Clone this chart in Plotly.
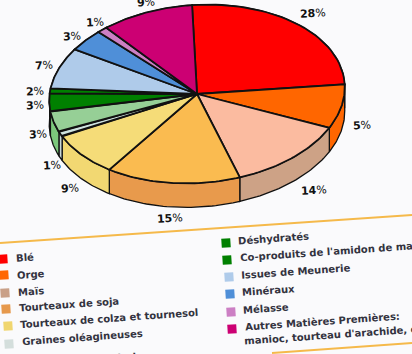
import numpy as np
import plotly.graph_objects as go

categories = ["Blé", "Orge", "Maïs", "Tourteaux de soja", "Tourteaux de colza et tournesol",
              "Graines oléagineuses", "Drèches de distillerie", "Déshydratés", "Co-produits de l'amidon de maïs",
              "Issues de Meunerie", "Minéraux", "Mélasse", "Autres Matières Premières"]
labels_pct = [28, 5, 14, 15, 9, 1, 3, 3, 2, 7, 3, 1, 9]
slice_share = [25, 7.9, 13, 14.8, 8.2, 0.9, 3.8, 3.3, 0.9, 7.3, 3.9, 1.1, 10]
top_colors = ["#FF0000", "#FF6600", "#FBBBA0", "#FABB50", "#F5DC78", "#CFE3DF", "#96CF96",
              "#008000", "#008000", "#AFCBEA", "#4F8FD8", "#CC7FC4", "#CC0073"]
side_colors = ["#DD0000", "#FF6600", "#CDA286", "#E89A4C", "#F2D872", "#C9D8D8", "#7CC87C",
               "#006600", "#006600", "#95B3D7", "#3F75B5", "#AA66A0", "#AA0060"]
label_pos = [(313, 13), (362, 125), (314, 190), (170, 218), (70, 188), (52, 165), (38, 134),
             (35, 105), (35, 91), (44, 65), (72, 36), (95, 22), (146, 2)]

legend_rows = [("Blé", 3, 259, 14, 257), ("Orge", 4, 275, 15, 274), ("Maïs", 5, 293, 16, 291),
               ("Tourteaux de soja", 6, 309, 17, 304), ("Tourteaux de colza et tournesol", 8, 326, 18, 318),
               ("Graines oléagineuses", 9, 344, 20, 337),
               ("Déshydratés", 226, 243, 236, 238), ("Co-produits de l'amidon de maïs", 227, 260, 238, 251),
               ("Issues de Meunerie", 229, 277, 239, 271), ("Minéraux", 230, 294, 240, 290),
               ("Mélasse", 231, 312, 241, 308), ("Autres Matières Premières:", 232, 329, 243, 321)]
legend_colors = ["#FF0000", "#FF6600", "#C9A088", "#E6994D", "#F0D66F", "#D4DEDC",
                 "#008000", "#008000", "#AFCBEA", "#4F8FD8", "#CC7FC4", "#CC0073"]

CX, CY, A, B, DEPTH, TILT = 197.0, 94.0, 148.0, 89.0, 24.0, np.radians(4.0)


def project(t, dy=0.0):
    x = A * np.sin(t)
    y = -B * np.cos(t)
    return CX + x * np.cos(TILT) + y * np.sin(TILT), CY - x * np.sin(TILT) + y * np.cos(TILT) + dy


fig = go.Figure()
edges = np.concatenate([[0], np.cumsum(slice_share)]) / sum(slice_share) * 2 * np.pi + np.radians(0.5)

for i, col in enumerate(side_colors):
    t = np.linspace(edges[i], edges[i + 1], 40)
    xa, ya = project(t)
    xb, yb = project(t[::-1], DEPTH)
    fig.add_trace(go.Scatter(x=np.r_[xa, xb, xa[0]], y=np.r_[ya, yb, ya[0]], mode="lines", fill="toself",
                             fillcolor=col, line=dict(color="#111111", width=1.3), hoverinfo="skip"))
for i, col in enumerate(top_colors):
    t = np.linspace(edges[i], edges[i + 1], 40)
    xa, ya = project(t)
    fig.add_trace(go.Scatter(x=np.r_[CX, xa, CX], y=np.r_[CY, ya, CY], mode="lines", fill="toself",
                             fillcolor=col, line=dict(color="#111111", width=1.8), hoverinfo="skip"))

for n, (x, y) in zip(labels_pct, label_pos):
    fig.add_annotation(x=x, y=y, text=f"<b>{n}</b>%", showarrow=False, xanchor="center", yanchor="middle",
                       font=dict(family="DejaVu Sans", size=11, color="#111111"), textangle=-3)

fig.add_trace(go.Scatter(x=[r[1] for r in legend_rows], y=[r[2] for r in legend_rows], mode="markers",
                         marker=dict(symbol="square", size=9, color=legend_colors, angle=-4, line=dict(width=0)),
                         hoverinfo="skip"))
LEG_FONT = dict(family="DejaVu Sans", size=10, color="#33333F")
for name, _, _, tx, ty in legend_rows:
    fig.add_annotation(x=tx, y=ty, text=f"<b>{name}</b>", showarrow=False, xanchor="left", yanchor="middle",
                       textangle=-4, font=LEG_FONT)
fig.add_annotation(x=242, y=334, text="<b>manioc, tourteau d'arachide, etc.</b>", showarrow=False, xanchor="left",
                   yanchor="middle", textangle=-4, font=LEG_FONT)
fig.add_annotation(x=21, y=353.9, yshift=-7, text=f"<b>{categories[6]}</b>", showarrow=False, xanchor="left",
                   yanchor="middle", textangle=-4, font=LEG_FONT)

for x0, y0, x1, y1 in [(0, 243, 412, 215), (272, 353, 412, 343)]:
    fig.add_shape(type="line", x0=x0, y0=y0, x1=x1, y1=y1, line=dict(color="#F5B94A", width=2))

fig.update_layout(width=412, height=354, margin=dict(l=0, r=0, t=0, b=0), showlegend=False,
                  paper_bgcolor="#FAFAFC", plot_bgcolor="#FAFAFC",
                  xaxis=dict(range=[0, 412], visible=False), yaxis=dict(range=[354, 0], visible=False))
fig.write_html("out.html", config=dict(displayModeBar=False),
               post_script="document.body.style.margin='0';document.body.style.overflow='hidden';")
